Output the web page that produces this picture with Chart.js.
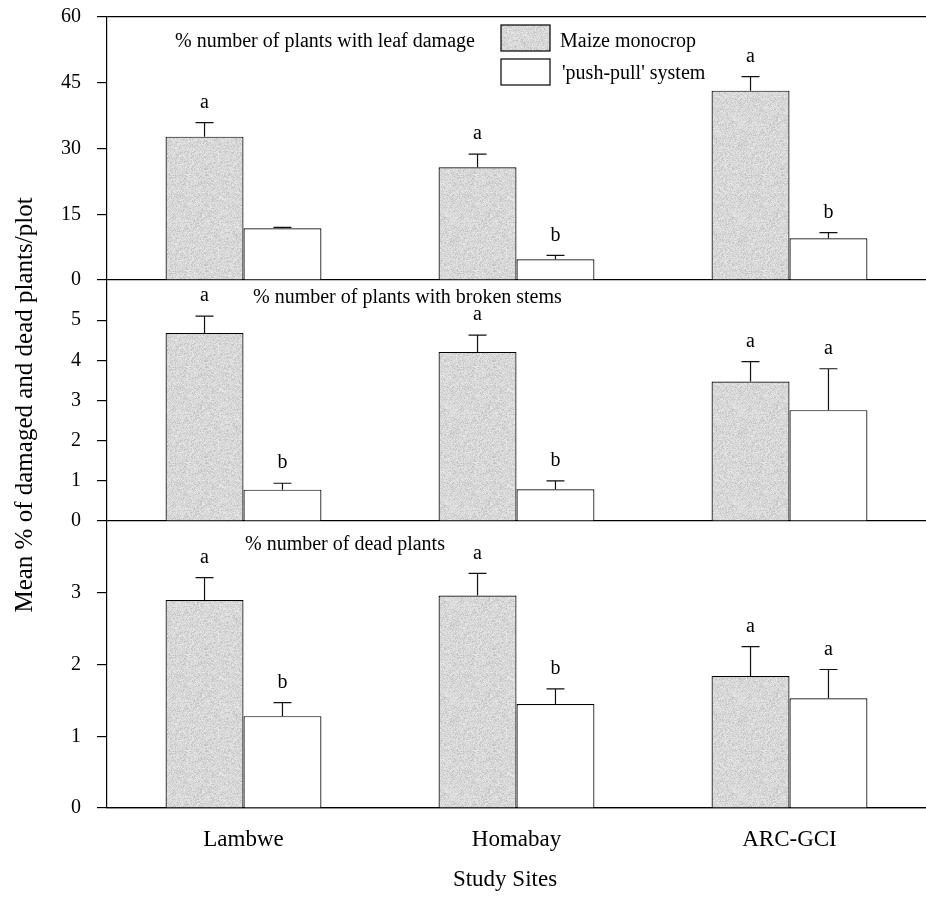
<!DOCTYPE html>
<html>
<head>
<meta charset="utf-8">
<script src="https://cdn.jsdelivr.net/npm/chart.js@4.4.0/dist/chart.umd.min.js"></script>
<style>
  html, body { margin: 0; padding: 0; background: #fff; }
  #wrap { width: 926px; height: 897px; overflow: hidden; }
</style>
</head>
<body>
<div id="wrap"><canvas id="myChart" width="926" height="897"></canvas></div>
<script>
const sites = ['Lambwe', 'Homabay', 'ARC-GCI'];

// % plants with leaf damage
const leafMaize = [32.7, 25.7, 43.2];
const leafMaizeErr = [3.2, 3.0, 3.2];
const leafPush = [11.8, 4.75, 9.5];
const leafPushErr = [0.2, 0.85, 1.3];
const leafMaizeLetters = ['a', 'a', 'a'];
const leafPushLetters = ['', 'b', 'b'];
const leafTicks = [0, 15, 30, 45, 60];

// % plants with broken stems
const stemMaize = [4.68, 4.21, 3.47];
const stemMaizeErr = [0.42, 0.42, 0.5];
const stemPush = [0.78, 0.79, 2.76];
const stemPushErr = [0.16, 0.21, 1.03];
const stemMaizeLetters = ['a', 'a', 'a'];
const stemPushLetters = ['b', 'b', 'a'];
const stemTicks = [0, 1, 2, 3, 4, 5];

// % dead plants
const deadMaize = [2.9, 2.96, 1.84];
const deadMaizeErr = [0.31, 0.31, 0.41];
const deadPush = [1.28, 1.45, 1.53];
const deadPushErr = [0.19, 0.21, 0.4];
const deadMaizeLetters = ['a', 'a', 'a'];
const deadPushLetters = ['b', 'b', 'a'];
const deadTicks = [0, 1, 2, 3];

const serif = '"Liberation Serif", "Times New Roman", serif';
Chart.defaults.font.family = serif;
Chart.defaults.color = '#000';

// speckled light grey fill for the monocrop bars
function makeStipple() {
  const c = document.createElement('canvas');
  c.width = 96; c.height = 96;
  const g = c.getContext('2d');
  const img = g.createImageData(96, 96);
  let s = 12345;
  for (let p = 0; p < 96 * 96; p++) {
    s = (s * 1103515245 + 12345) & 0x7fffffff;
    const r = (s >> 8) % 100;
    let v = 218;
    if (r < 12) v = 196;
    else if (r < 35) v = 208;
    else if (r > 80) v = 230;
    img.data[p * 4] = v;
    img.data[p * 4 + 1] = v;
    img.data[p * 4 + 2] = v;
    img.data[p * 4 + 3] = 255;
  }
  g.putImageData(img, 0, 0);
  return document.getElementById('myChart').getContext('2d').createPattern(c, 'repeat');
}
const stipple = makeStipple();

function maizeSet(data, axis, errs, letters) {
  return { label: 'Maize monocrop', data: data, yAxisID: axis, stack: 'maize',
    backgroundColor: stipple, borderColor: '#000', borderWidth: 1.2,
    errs: errs, letters: letters };
}
function pushSet(data, axis, errs, letters) {
  return { label: "'push-pull' system", data: data, yAxisID: axis, stack: 'push',
    backgroundColor: '#fff', borderColor: '#000', borderWidth: 1.2,
    errs: errs, letters: letters };
}

function yScale(max, ticks, weight) {
  return {
    type: 'linear', position: 'left', stack: 'panels', stackWeight: weight,
    stacked: false, min: 0, max: max,
    afterBuildTicks: s => { s.ticks = ticks.map(v => ({ value: v })); },
    afterFit: s => { s.width = 107; s.paddingTop = 0; s.paddingBottom = 0; },
    ticks: { font: { size: 20 }, padding: 16, color: '#000', autoSkip: false },
    grid: {
      color: c => (c.tick && (c.tick.value === 0 || c.tick.value === 60)) ? '#000' : 'rgba(0,0,0,0)',
      tickColor: '#000', tickLength: 10, lineWidth: 1.2
    },
    border: { display: true, color: '#000', width: 1.2 }
  };
}

const annotate = {
  id: 'annotate',
  afterDatasetsDraw(chart) {
    const ctx = chart.ctx;
    ctx.save();
    ctx.strokeStyle = '#111';
    ctx.lineWidth = 1.2;
    ctx.fillStyle = '#000';
    ctx.font = '20px ' + serif;
    ctx.textAlign = 'center';
    ctx.textBaseline = 'middle';
    chart.data.datasets.forEach((ds, i) => {
      const meta = chart.getDatasetMeta(i);
      const ys = chart.scales[ds.yAxisID];
      meta.data.forEach((bar, j) => {
        const top = ys.getPixelForValue(ds.data[j]);
        const cap = ys.getPixelForValue(ds.data[j] + ds.errs[j]);
        ctx.beginPath();
        ctx.moveTo(bar.x, top);
        ctx.lineTo(bar.x, cap);
        ctx.moveTo(bar.x - 9, cap);
        ctx.lineTo(bar.x + 9, cap);
        ctx.stroke();
        if (ds.letters[j]) ctx.fillText(ds.letters[j], bar.x, cap - 20);
      });
    });
    ctx.restore();
  },
  afterDraw(chart) {
    const ctx = chart.ctx;
    ctx.save();
    ctx.fillStyle = '#000';
    ctx.textBaseline = 'middle';
    ctx.font = '20px ' + serif;
    ctx.textAlign = 'left';
    ctx.fillText('% number of plants with leaf damage', 175, 42);
    ctx.fillText('% number of plants with broken stems', 253, 298);
    ctx.fillText('% number of dead plants', 245, 545);

    // legend
    ctx.lineWidth = 1.2;
    ctx.strokeStyle = '#000';
    ctx.fillStyle = stipple;
    ctx.fillRect(501, 25, 49, 26);
    ctx.strokeRect(501, 25, 49, 26);
    ctx.fillStyle = '#fff';
    ctx.fillRect(501, 59, 49, 26);
    ctx.strokeRect(501, 59, 49, 26);
    ctx.fillStyle = '#000';
    ctx.fillText('Maize monocrop', 560, 42);
    ctx.fillText("'push-pull' system", 562, 74);

    // axis titles
    ctx.textAlign = 'center';
    ctx.font = '23px ' + serif;
    ctx.fillText('Study Sites', 505, 880);
    ctx.translate(25, 405);
    ctx.rotate(-Math.PI / 2);
    ctx.font = '25px ' + serif;
    ctx.fillText('Mean % of damaged and dead plants/plot', 0, 0);
    ctx.restore();
  }
};

const data = {
  labels: sites,
  datasets: [
    maizeSet(leafMaize, 'yLeaf', leafMaizeErr, leafMaizeLetters),
    pushSet(leafPush, 'yLeaf', leafPushErr, leafPushLetters),
    maizeSet(stemMaize, 'yStem', stemMaizeErr, stemMaizeLetters),
    pushSet(stemPush, 'yStem', stemPushErr, stemPushLetters),
    maizeSet(deadMaize, 'yDead', deadMaizeErr, deadMaizeLetters),
    pushSet(deadPush, 'yDead', deadPushErr, deadPushLetters)
  ]
};

const config = {
  type: 'bar',
  data: data,
  options: {
    responsive: false,
    animation: false,
    categoryPercentage: 0.571,
    barPercentage: 1.0,
    layout: { padding: { top: 17, left: 0, right: 0, bottom: 0 } },
    plugins: { legend: { display: false }, tooltip: { enabled: false } },
    scales: {
      x: {
        type: 'category',
        afterFit: s => { s.height = 89; },
        grid: { display: false, drawTicks: false },
        border: { display: true, color: '#000', width: 1.2 },
        ticks: { font: { size: 23 }, padding: 18, color: '#000' }
      },
      yDead: yScale(4, deadTicks, 287),
      yStem: yScale(6, stemTicks, 241),
      yLeaf: yScale(60, leafTicks, 263)
    }
  },
  plugins: [annotate]
};

const myChart = new Chart(document.getElementById('myChart'), config);
</script>
</body>
</html>
